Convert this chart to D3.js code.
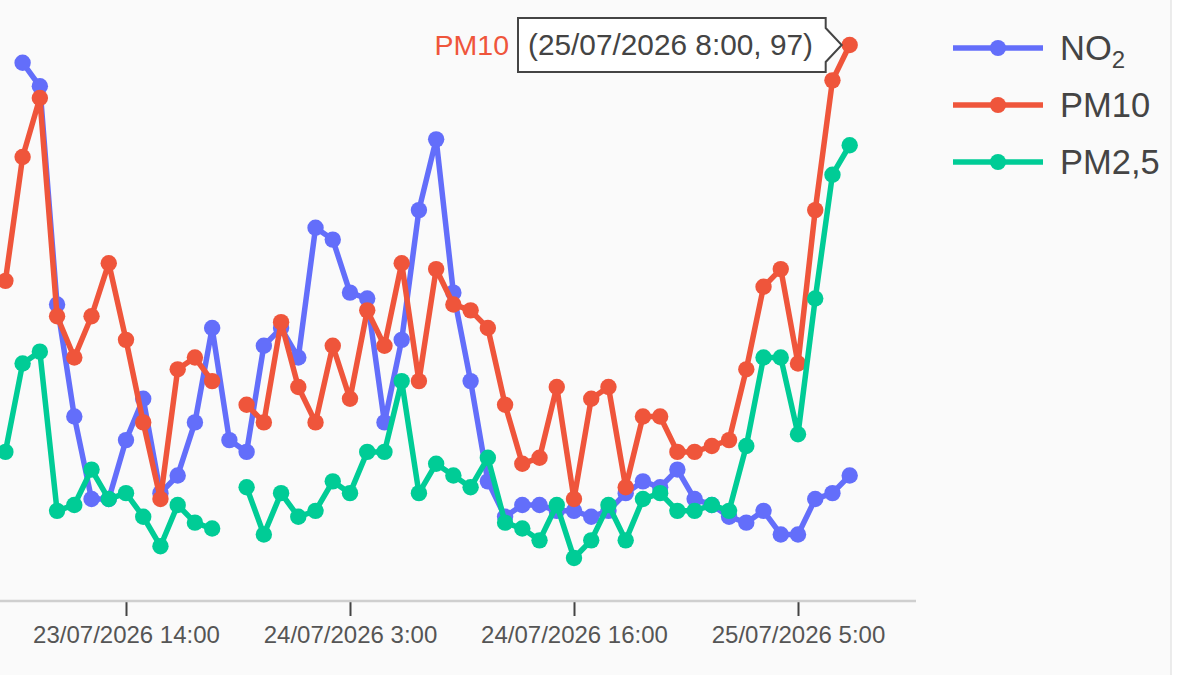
<!DOCTYPE html>
<html>
<head>
<meta charset="utf-8">
<script src="https://cdn.jsdelivr.net/npm/d3@7"></script>
<style>
  html, body { margin: 0; padding: 0; background: #fafafa; }
  svg { display: block; font-family: "Liberation Sans", Arial, sans-serif; }
</style>
</head>
<body>
<svg id="chart" width="1200" height="675"></svg>
<script>
// ---- data ----
const startTime = "23/07/2026 7:00";
const endTime = "25/07/2026 8:00";
const tickLabels = ["23/07/2026 14:00", "24/07/2026 3:00", "24/07/2026 16:00", "25/07/2026 5:00"];
const seriesNames = ["NO2", "PM10", "PM2,5"];
const no2 = [null, 94, 90, 53, 34, 20, 20, 30, 37, 21, 24, 33, 49, 30, 28, 46, 49, 44, 66, 64, 55,
  54, 33, 47, 69, 81, 55, 40, 23, 17, 19, 19, 18, 18, 17, 18, 21, 23, 22, 25, 20, 19,
  17, 16, 18, 14, 14, 20, 21, 24];
const pm10 = [57, 78, 88, 51, 44, 51, 60, 47, 33, 20, 42, 44, 40, null, 36, 33, 50, 39, 33, 46, 37,
  52, 46, 60, 40, 59, 53, 52, 49, 36, 26, 27, 39, 20, 37, 39, 22, 34, 34, 28, 28, 29,
  30, 42, 56, 59, 43, 69, 91, 97];
const pm25 = [28, 43, 45, 18, 19, 25, 20, 21, 17, 12, 19, 16, 15, null, 22, 14, 21, 17, 18, 23, 21,
  28, 28, 40, 21, 26, 24, 22, 27, 16, 15, 13, 19, 10, 13, 19, 13, 20, 21, 18, 18, 19,
  18, 29, 44, 44, 31, 54, 75, 80];
const colors = ["#636efa", "#EF553B", "#00cc96"];

// ---- helpers ----
const parse = d3.timeParse("%d/%m/%Y %H:%M");
const fmt = d => d3.timeFormat("%d/%m/%Y ")(d) + d.getHours() + d3.timeFormat(":%M")(d);
const times = d3.timeHour.range(parse(startTime), d3.timeHour.offset(parse(endTime), 1));
const seriesValues = [no2, pm10, pm25];

const svg = d3.select("#chart");
svg.append("rect").attr("width", 1200).attr("height", 675).attr("fill", "#fafafa");
svg.append("rect").attr("x", 1171).attr("width", 29).attr("height", 675).attr("fill", "#ffffff");
svg.append("line").attr("x1", 1171).attr("x2", 1171).attr("y1", 0).attr("y2", 675)
  .attr("stroke", "#e6e6e6").attr("stroke-width", 1.5);

const x = d3.scaleTime()
  .domain([parse(tickLabels[0]), parse(tickLabels[3])])
  .range([126, 798]);
const y = d3.scaleLinear().domain([0, 100]).range([617, 27.3]);

// axis
const axisY = 601;
const xAxis = d3.axisBottom(x)
  .tickValues(tickLabels.map(parse))
  .tickFormat(fmt)
  .tickSize(15)
  .tickSizeOuter(0);
const gx = svg.append("g").attr("transform", `translate(0,${axisY})`).call(xAxis);
gx.select(".domain").remove();
gx.selectAll(".tick line").attr("stroke", "#444").attr("stroke-width", 2);
gx.selectAll(".tick text").attr("fill", "#555").attr("font-size", 24)
  .attr("y", 25).attr("font-family", "'Liberation Sans', Arial, sans-serif");
svg.append("line").attr("x1", 0).attr("x2", 916).attr("y1", axisY).attr("y2", axisY)
  .attr("stroke", "#cfcfcf").attr("stroke-width", 2.5);

// series
const line = d3.line()
  .defined(d => d.v != null)
  .x(d => x(d.t))
  .y(d => y(d.v));

seriesValues.forEach((vals, i) => {
  const pts = vals.map((v, j) => ({ t: times[j], v }));
  const g = svg.append("g");
  g.append("path").datum(pts).attr("d", line)
    .attr("fill", "none").attr("stroke", colors[i]).attr("stroke-width", 5.5)
    .attr("stroke-linejoin", "round");
  g.selectAll("circle").data(pts.filter(d => d.v != null)).join("circle")
    .attr("cx", d => x(d.t)).attr("cy", d => y(d.v)).attr("r", 8.2)
    .attr("fill", colors[i]);
});

// hover label on last PM10 point
const lastT = times[times.length - 1];
const lastV = pm10[pm10.length - 1];
const px = x(lastT), py = y(lastV);
const tipRight = px - 8;
const boxR = tipRight - 16, boxL = 518, boxT = py - 27, boxB = py + 27;
svg.append("path")
  .attr("d", `M${boxL},${boxT}H${boxR}V${py - 17}L${tipRight},${py}L${boxR},${py + 17}V${boxB}H${boxL}Z`)
  .attr("fill", "#ffffff").attr("stroke", "#444").attr("stroke-width", 2);
svg.append("text").attr("x", boxL + 10).attr("y", py + 10)
  .attr("font-size", 29.8).attr("fill", "#444")
  .text(`(${fmt(lastT)}, ${lastV})`);
svg.append("text").attr("x", boxL - 9).attr("y", py + 10)
  .attr("text-anchor", "end").attr("font-size", 28.5).attr("fill", colors[1])
  .text(seriesNames[1]);

// legend
const legendY = [48, 105, 162];
seriesNames.forEach((name, i) => {
  const g = svg.append("g").attr("transform", `translate(0,${legendY[i]})`);
  g.append("line").attr("x1", 953).attr("x2", 1043).attr("y1", 0).attr("y2", 0)
    .attr("stroke", colors[i]).attr("stroke-width", 5.5);
  g.append("circle").attr("cx", 998).attr("cy", 0).attr("r", 8).attr("fill", colors[i]);
  const t = g.append("text").attr("x", 1060).attr("y", 12).attr("font-size", 34.5).attr("fill", "#444");
  if (name === "NO2") {
    t.append("tspan").text("NO");
    t.append("tspan").attr("font-size", 24).attr("dy", 8).text("2");
  } else {
    t.text(name);
  }
});
</script>
</body>
</html>
